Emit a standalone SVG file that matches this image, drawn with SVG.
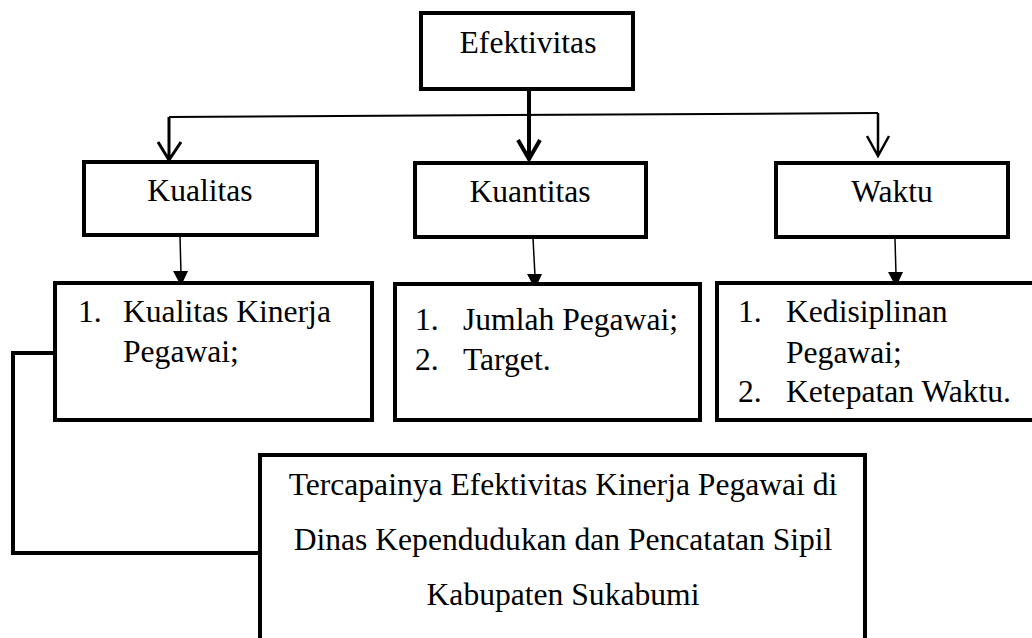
<svg xmlns="http://www.w3.org/2000/svg" width="1032" height="638" viewBox="0 0 1032 638">
<style>
.box{fill:#fff;stroke:#000;stroke-width:4}
.c{text-anchor:middle}
.ln{fill:none;stroke:#000}
.hd{fill:#000;stroke:none}
</style>
<rect width="1032" height="638" fill="#fff"/>
<g id="connectors">
<path class="ln" stroke-width="2" d="M169,117 L878,113"/>
<path class="ln" stroke-width="3" d="M169,117 L169,160 M158,142 L169,160 L181,142"/>
<path class="ln" stroke-width="4" d="M529,89 L529,160 M518,140 L529,159 L540,140"/>
<path class="ln" stroke-width="2.5" d="M878,113 L878,156 M867,136 L878,156 L889,136"/>
<path class="ln" stroke-width="1.5" d="M180,236 L181,274"/>
<path class="hd" d="M173,271 L188,271 L181,286 Z"/>
<path class="ln" stroke-width="1.5" d="M533,238 L535,276"/>
<path class="hd" d="M527,274 L542,274 L535,289 Z"/>
<path class="ln" stroke-width="1.5" d="M895,239 L896,274"/>
<path class="hd" d="M888,272 L903,272 L896,287 Z"/>
<path class="ln" stroke-width="4" d="M53,353 L13,353 L13,553 L258,553"/>
</g>
<g font-family="Liberation Serif" font-size="31.6" fill="#000">
<g id="efektivitas">
<rect class="box" x="421" y="13" width="212" height="76"/>
<text class="c" x="528" y="53">Efektivitas</text>
</g>
<g id="kualitas">
<rect class="box" x="84" y="162" width="233" height="73"/>
<text class="c" x="200" y="201">Kualitas</text>
</g>
<g id="kuantitas">
<rect class="box" x="415" y="163" width="231" height="74"/>
<text class="c" x="530" y="202">Kuantitas</text>
</g>
<g id="waktu">
<rect class="box" x="776" y="163" width="232" height="74"/>
<text class="c" x="892" y="202">Waktu</text>
</g>
<g id="list-kualitas">
<rect class="box" x="55" y="283" width="317" height="137"/>
<text x="78" y="322">1.</text>
<text x="123" y="322">Kualitas Kinerja</text>
<text x="123" y="362">Pegawai;</text>
</g>
<g id="list-kuantitas">
<rect class="box" x="395" y="284" width="305" height="136"/>
<text x="415" y="330">1.</text>
<text x="463" y="330">Jumlah Pegawai;</text>
<text x="415" y="370">2.</text>
<text x="463" y="370">Target.</text>
</g>
<g id="list-waktu">
<rect class="box" x="717" y="283" width="330" height="137"/>
<text x="738" y="322">1.</text>
<text x="786" y="322">Kedisiplinan</text>
<text x="786" y="363">Pegawai;</text>
<text x="738" y="402">2.</text>
<text x="786" y="402">Ketepatan Waktu.</text>
</g>
<g id="hasil">
<rect class="box" x="260" y="455" width="605" height="200"/>
<text class="c" x="563" y="495">Tercapainya Efektivitas Kinerja Pegawai di</text>
<text class="c" x="563" y="550">Dinas Kependudukan dan Pencatatan Sipil</text>
<text class="c" x="563" y="605">Kabupaten Sukabumi</text>
</g>
</g>
</svg>
